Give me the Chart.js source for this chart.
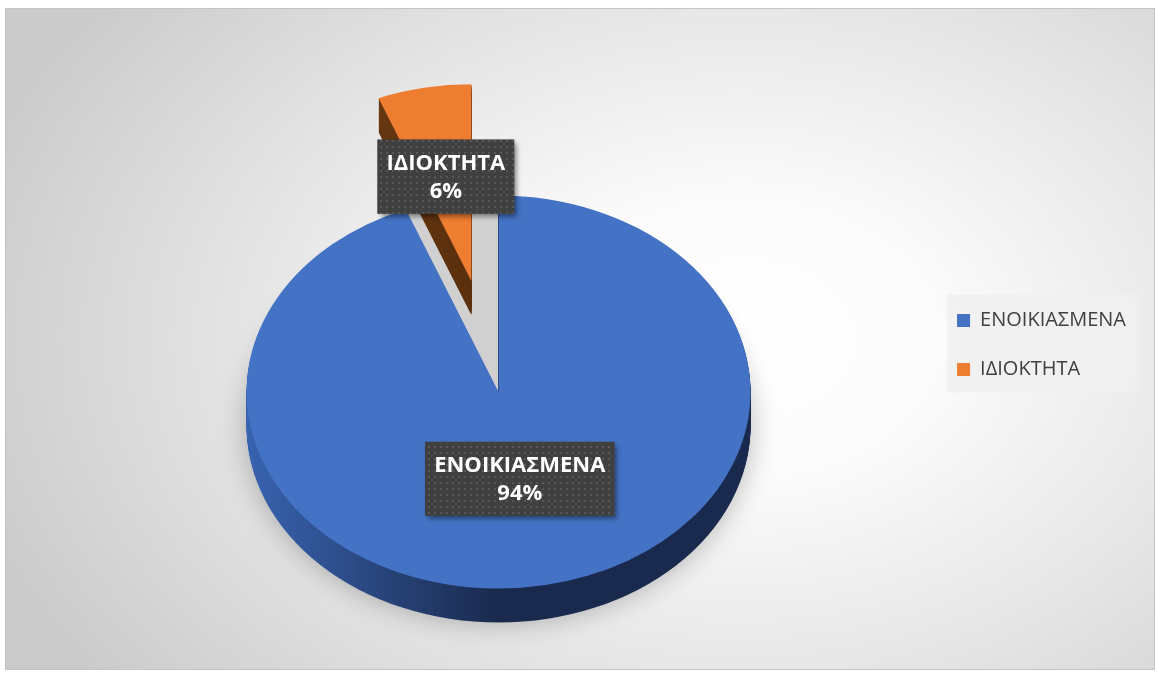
<!DOCTYPE html>
<html>
<head>
<meta charset="utf-8">
<script src="https://cdn.jsdelivr.net/npm/chart.js@4.4.1/dist/chart.umd.min.js"></script>
<style>
  html, body { margin: 0; padding: 0; background: #fff; }
  #frame {
    position: absolute; left: 5px; top: 8px; width: 1150px; height: 662px;
    box-sizing: border-box; border: 1px solid #c4c4c4;
    background: radial-gradient(ellipse 70% 85% at 64% 50%, #ffffff 0%, #fbfbfb 25%, #e6e6e6 60%, #cbcbcb 100%);
  }
  #wrap { position: absolute; left: 0; top: 0; width: 1158px; height: 675px; }
</style>
</head>
<body>
<div id="frame"></div>
<div id="wrap"><canvas id="pie" width="1158" height="675"></canvas></div>
<script>
const labels = ['ΕΝΟΙΚΙΑΣΜΕΝΑ', 'ΙΔΙΟΚΤΗΤΑ'];
const shares = [94, 6];
const colors = ['#4472c4', '#ed7d31'];
const sideColors = [['#3863b0', '#1a2a4e'], ['#7a4416', '#5a2f0d']];

// fake 3d: flatten the disc, give it a rim
const TILT = 0.78, DEPTH = 34, LIFT = 47;

function place(ctx, arc, dy, push) {
  const mid = (arc.startAngle + arc.endAngle) / 2;
  ctx.translate(arc.x, arc.y + LIFT + dy);
  ctx.scale(1, TILT);
  ctx.translate(Math.cos(mid) * push, Math.sin(mid) * push);
  ctx.translate(-arc.x, -arc.y);
}

function wedge(ctx, arc) {
  ctx.beginPath();
  ctx.moveTo(arc.x, arc.y);
  ctx.arc(arc.x, arc.y, arc.outerRadius, arc.startAngle, arc.endAngle);
  ctx.closePath();
}

function dots() {
  const c = document.createElement('canvas');
  c.width = 6; c.height = 6;
  const g = c.getContext('2d');
  g.fillStyle = '#404040';
  g.fillRect(0, 0, 6, 6);
  g.fillStyle = '#575757';
  g.fillRect(2, 2, 2, 2);
  return c;
}

const pie3d = {
  id: 'pie3d',
  beforeDraw(chart) {
    const lg = chart.legend;
    if (!lg || !lg.legendHitBoxes.length) return;
    const hb = lg.legendHitBoxes;
    const l = Math.min(...hb.map(b => b.left)) - 10;
    const t = hb[0].top - 16;
    const r = Math.max(...hb.map(b => b.left + b.width)) + 13;
    const b = hb[hb.length - 1].top + hb[hb.length - 1].height + 13;
    const ctx = chart.ctx;
    ctx.save();
    ctx.fillStyle = 'rgba(240,240,240,0.85)';
    ctx.fillRect(l, t, r - l, b - t);
    ctx.restore();
  },
  beforeDatasetsDraw(chart) {
    const ctx = chart.ctx;
    const ds = chart.data.datasets[0];
    const arcs = chart.getDatasetMeta(0).data;

    // floor shadow + gap left by exploded slices
    ctx.save();
    ctx.shadowColor = 'rgba(0,0,0,0.28)';
    ctx.shadowBlur = 28;
    arcs.forEach(arc => {
      ctx.save();
      place(ctx, arc, DEPTH, 0);
      wedge(ctx, arc);
      ctx.fillStyle = '#d2d2d2';
      ctx.fill();
      ctx.restore();
    });
    ctx.restore();
    arcs.forEach((arc, i) => {
      if (!ds.explode[i]) return;
      ctx.save();
      place(ctx, arc, 0, 0);
      wedge(ctx, arc);
      ctx.fillStyle = '#d0d0d0';
      ctx.fill();
      ctx.restore();
    });

    // rim
    arcs.forEach((arc, i) => {
      for (let d = DEPTH; d >= 1; d--) {
        ctx.save();
        place(ctx, arc, d, ds.explode[i]);
        const g = ctx.createLinearGradient(arc.x - arc.outerRadius, 0, arc.x + arc.outerRadius, 0);
        g.addColorStop(0, sideColors[i][0]);
        g.addColorStop(0.5, sideColors[i][1]);
        g.addColorStop(1, sideColors[i][1]);
        wedge(ctx, arc);
        ctx.fillStyle = g;
        ctx.fill();
        ctx.restore();
      }
    });

    // top faces
    arcs.forEach((arc, i) => {
      ctx.save();
      place(ctx, arc, 0, ds.explode[i]);
      arc.draw(ctx);
      ctx.restore();
    });
    return false;
  },
  afterDraw(chart) {
    const ctx = chart.ctx;
    const ds = chart.data.datasets[0];
    const arcs = chart.getDatasetMeta(0).data;
    const total = ds.data.reduce((a, b) => a + b, 0);
    const pat = ctx.createPattern(dots(), 'repeat');
    arcs.forEach((arc, i) => {
      const mid = (arc.startAngle + arc.endAngle) / 2;
      const r = ds.explode[i] + ds.labelAt[i] * arc.outerRadius;
      const cx = arc.x + Math.cos(mid) * r;
      const cy = arc.y + LIFT + Math.sin(mid) * r * TILT;
      const lines = [chart.data.labels[i], Math.round(ds.data[i] / total * 100) + '%'];
      ctx.save();
      ctx.font = 'bold 22px "Open Sans"';
      const w = Math.max(...lines.map(s => ctx.measureText(s).width)) + 18;
      const h = 74;
      ctx.shadowColor = 'rgba(0,0,0,0.45)';
      ctx.shadowBlur = 5;
      ctx.shadowOffsetX = 3;
      ctx.shadowOffsetY = 3;
      ctx.fillStyle = '#404040';
      ctx.fillRect(cx - w / 2, cy - h / 2, w, h);
      ctx.shadowColor = 'transparent';
      ctx.fillStyle = pat;
      ctx.fillRect(cx - w / 2, cy - h / 2, w, h);
      ctx.fillStyle = '#ffffff';
      ctx.textAlign = 'center';
      ctx.textBaseline = 'middle';
      ctx.fillText(lines[0], cx, cy - 13);
      ctx.fillText(lines[1], cx, cy + 15);
      ctx.restore();
    });
  }
};

new Chart(document.getElementById('pie'), {
  type: 'pie',
  data: {
    labels: labels,
    datasets: [{
      data: shares,
      backgroundColor: colors,
      borderWidth: 0,
      radius: 252,
      explode: [0, 145],
      labelAt: [0.45, 0.54]
    }]
  },
  options: {
    responsive: false,
    animation: false,
    layout: { padding: { left: 69, right: 22, top: 20, bottom: 5 } },
    plugins: {
      legend: {
        position: 'right',
        align: 'center',
        labels: {
          boxWidth: 13,
          boxHeight: 13,
          padding: 29,
          color: '#404040',
          font: { family: 'Open Sans', size: 20 }
        }
      },
      tooltip: { enabled: false }
    }
  },
  plugins: [pie3d]
});
</script>
</body>
</html>
